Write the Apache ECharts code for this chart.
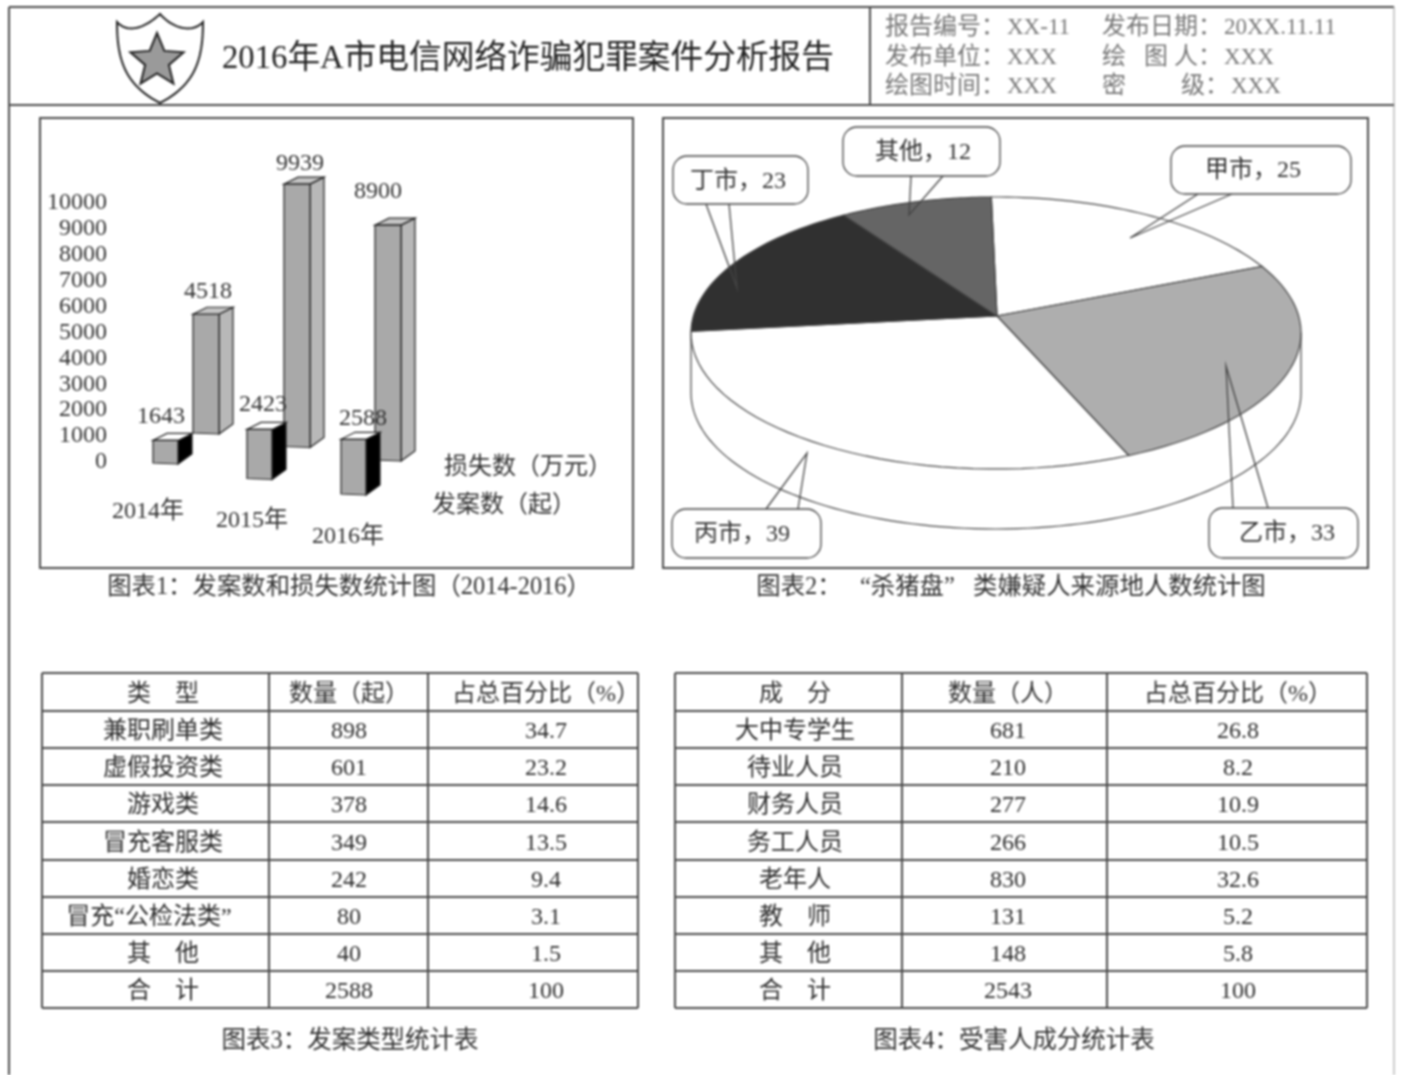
<!DOCTYPE html>
<html><head><meta charset="utf-8">
<style>html,body{margin:0;padding:0;background:#fff}#c{width:1401px;height:1075px;filter:blur(1px)}</style>
<script src="https://cdn.jsdelivr.net/npm/echarts@6/dist/echarts.min.js"></script>
</head><body><div id="c"></div>
<script>
// ---------- data ----------
const reportTitle = '2016年A市电信网络诈骗犯罪案件分析报告';
const years = ['2014年','2015年','2016年'];
const caseCounts = [1643,2423,2588];
const lossAmounts = [4518,9939,8900];
const lossName = '损失数（万元）';
const caseName = '发案数（起）';
const pieNames = ['甲市','乙市','丙市','丁市','其他'];
const pieValues = [25,33,39,23,12];
const pieColors = ['#ffffff','#aeaeae','#ffffff','#303030','#656565'];
const captions = ['图表1：发案数和损失数统计图（2014-2016）','图表2：   “杀猪盘”   类嫌疑人来源地人数统计图','图表3：发案类型统计表','图表4：受害人成分统计表'];
const t1Head = ['类　型','数量（起）','占总百分比（%）'];
const t1Types = ['兼职刷单类','虚假投资类','游戏类','冒充客服类','婚恋类','冒充“公检法类”','其　他','合　计'];
const t1Counts = ['898','601','378','349','242','80','40','2588'];
const t1Shares = ['34.7','23.2','14.6','13.5','9.4','3.1','1.5','100'];
const t2Head = ['成　分','数量（人）','占总百分比（%）'];
const t2Types = ['大中专学生','待业人员','财务人员','务工人员','老年人','教　师','其　他','合　计'];
const t2Counts = ['681','210','277','266','830','131','148','2543'];
const t2Shares = ['26.8','8.2','10.9','10.5','32.6','5.2','5.8','100'];

// ---------- style and layout ----------
const FF = '"Liberation Serif","Noto Sans CJK SC"';
const font = s => s + 'px ' + FF;
const INK = '#2e2e2e', LINE = '#4a4a4a';
const graphics = [];
const txt = (text,x,y,size,fill,align) => graphics.push({type:'text',silent:true,x,y:y+3,style:{text,font:font(size),fill:fill||INK,align:align||'center',verticalAlign:'middle',textAlign:align||'center',textVerticalAlign:'middle'}});
const ln = (x1,y1,x2,y2,w,c) => graphics.push({type:'line',silent:true,shape:{x1,y1,x2,y2},style:{stroke:c||LINE,lineWidth:w||2}});

// page frame and header
ln(9,7,1394,7); ln(9,7,9,1075); ln(1394,7,1394,1075,1,'#999'); ln(9,105,1394,105); ln(870,7,870,105);
function bez(p0,p1,p2,p3,out){for(let k=0;k<=24;k++){const t=k/24,u=1-t;out.push([u*u*u*p0[0]+3*u*u*t*p1[0]+3*u*t*t*p2[0]+t*t*t*p3[0],u*u*u*p0[1]+3*u*u*t*p1[1]+3*u*t*t*p2[1]+t*t*t*p3[1]]);}}
const shield=[];
bez([117,22],[128,34],[145,28],[160,14],shield);
bez([160,14],[172,28],[192,34],[203,22],shield);
bez([203,22],[203,60],[195,85],[160,103],shield);
bez([160,103],[125,85],[117,60],[117,22],shield);
graphics.push({type:'polygon',silent:true,shape:{points:shield},style:{fill:'#fff',stroke:'#222',lineWidth:2}});
const star=[]; for(let k=0;k<10;k++){const r=k%2?12.5:28,a=-Math.PI/2+k*Math.PI/5; star.push([157+r*Math.cos(a),61+r*Math.sin(a)]);}
graphics.push({type:'polygon',silent:true,shape:{points:star},style:{fill:'#9a9a9a',stroke:'#222',lineWidth:2}});
txt(reportTitle,222,56,32.7,'#222','left');
const META='#777';
[['报告编号：',885,25,24],['XX-11',1007,25,23],['发布日期：',1102,25,24],['20XX.11.11',1224,25,23],
 ['发布单位：',885,55,24],['XXX',1007,55,23],['绘   图 人：',1102,55,24],['XXX',1224,55,23],
 ['绘图时间：',885,84,24],['XXX',1007,84,23],['密',1102,84,24],['级：',1181,84,24],['XXX',1231,84,23]]
 .forEach(m=>txt(m[0],m[1],m[2],m[3],META,'left'));

// chart frames and captions
[[40,118,593,450],[663,118,705,450]].forEach(r=>graphics.push({type:'rect',silent:true,shape:{x:r[0],y:r[1],width:r[2],height:r[3]},style:{fill:'none',stroke:LINE,lineWidth:2}}));
txt(captions[0],349,585,24.4,'#333'); txt(captions[1],1011,585,24.4,'#333');
txt(captions[2],350,1039,24.5,'#333'); txt(captions[3],1014,1039,24.5,'#333');
txt(lossName,444,465,24,'#333','left'); txt(caseName,432,503,24,'#333','left');

// tables
const rowY=[673,711,748,785,822,860,897,934,971,1008];
function table(colX,centers,head,c1,c2,c3,firstShift){
  rowY.forEach(y=>ln(colX[0],y,colX[3],y));
  colX.forEach(x=>ln(x,rowY[0],x,rowY[9]));
  const my=i=>(rowY[i]+rowY[i+1])/2-0.5;
  head.forEach((h,j)=>txt(h,centers[j],my(0),24,'#333'));
  c1.forEach((v,i)=>{
    txt(v,centers[0]+(firstShift[i]||0),my(i+1),24,INK);
    txt(c2[i],centers[1],my(i+1),24,INK);
    txt(c3[i],centers[2],my(i+1),24,INK);
  });
}
table([42,269,428,638],[163,349,546],t1Head,t1Types,t1Counts,t1Shares,{5:-14});
table([675,902,1107,1367],[795,1008,1238],t2Head,t2Types,t2Counts,t2Shares,{});

// oblique bar layout: one config per row of the 3-D bar chart
const frontRow={w:25,dx:-7,stepX:0,dy:2,stepY:15.5,side:'#000000',top:'#ffffff',axisMin:950,labelDx:[8,16,22],labelDy:[-24,-25,-21]};
const rearRow ={w:26,dx:33,stepX:-3,dy:-28,stepY:13.5,side:'#b8b8b8',top:'#c4c4c4',axisMin:0,labelDx:[15,16,3],labelDy:[-23,-20,-33]};
const yearOffset=[[-12,50],[-2,59],[0,75]];
const DX=14,DY=7,FACE='#a9a9a9',EDGE='#222';
function barRenderer(row,withYears){
  return function(params,api){
    const i=api.value(0), v=api.value(1);
    const top=api.coord([i,v]), base=api.coord([i,row.axisMin]);
    const h=base[1]-top[1];
    const x=base[0]+row.dx+row.stepX*i, yB=base[1]+row.dy+row.stepY*i, yT=yB-h, w=row.w;
    const st=f=>({fill:f,stroke:EDGE,lineWidth:1.2});
    const children=[
      {type:'polygon',shape:{points:[[x+w,yB],[x+w,yT],[x+w+DX,yT-DY],[x+w+DX,yB-DY-3]]},style:st(row.side)},
      {type:'polygon',shape:{points:[[x,yT],[x+w,yT],[x+w+DX,yT-DY],[x+DX,yT-DY]]},style:st(row.top)},
      {type:'polygon',shape:{points:[[x,yT],[x+w,yT],[x+w,yB],[x,yB-1]]},style:st(FACE)},
      {type:'text',z2:50,x:x+row.labelDx[i],y:yT+row.labelDy[i],style:{text:String(v),font:font(24),fill:'#333',align:'center',verticalAlign:'middle'}}
    ];
    if(withYears){
      children.push({type:'text',z2:50,x:base[0]+yearOffset[i][0],y:base[1]+yearOffset[i][1],style:{text:years[i],font:font(24),fill:'#333',align:'center',verticalAlign:'middle'}});
    }
    return {type:'group',children};
  };
}

// pie projection: a tilted circle seen in perspective, so its centre sits above the ellipse's middle
const SQUASH=136/305, PIE_DEPTH=60, PERSPECTIVE=0.125, PIE_START=-1;
const pieTotal=pieValues.reduce((a,b)=>a+b,0);
let running=0;
const pieEnds=pieValues.map(v=>(running+=v));
function flat(api,a){
  const c=api.coord([0,0]), p=api.coord([1,a]);
  return [p[0], c[1]+(p[1]-c[1])*SQUASH];
}
function project(api,a){
  const c=api.coord([0,0]), p=api.coord([1,a]);
  const R=Math.hypot(p[0]-c[0],p[1]-c[1]);
  const x=(p[0]-c[0])/R, y=(c[1]-p[1])/R, e=PERSPECTIVE;
  const d=1+e*y;
  return [c[0]+R*x*Math.sqrt(1-e*e)/d, c[1]-R*SQUASH*(y+e)/d];
}
function pieSide(params,api){
  const pts=[];
  for(let k=0;k<=90;k++){const a=pieTotal/4+k/90*pieTotal/2,p=flat(api,a);pts.push([p[0],p[1]+PIE_DEPTH]);}
  pts.unshift(flat(api,pieTotal/4)); pts.push(flat(api,pieTotal*3/4));
  return {type:'polygon',shape:{points:pts},style:{fill:'#fff',stroke:'#444',lineWidth:1.2}};
}
function pieSlice(params,api){
  const end=api.value(1), i=params.dataIndex, start=end-pieValues[i];
  const c=api.coord([0,0]), pts=[[c[0]+1,c[1]-136*PERSPECTIVE]];
  const n=40, off=PIE_START*pieTotal/360;
  for(let k=0;k<=n;k++){pts.push(project(api,start+off+(end-start)*k/n));}
  return {type:'polygon',shape:{points:pts},style:{fill:pieColors[i],stroke:'#444',lineWidth:1.2}};
}
// callouts: box x,y,w,h; tail base x1,x2, base y; tail tip
const callouts=[
 {box:[1171,146,180,48],tx:1253,ty:171,b:[1198,1232,194],tip:[1130,238]},
 {box:[1209,508,149,50],tx:1287,ty:534,b:[1233,1268,508],tip:[1226,366]},
 {box:[672,509,149,49],tx:742,ty:535,b:[766,798,509],tip:[807,453]},
 {box:[673,156,135,48],tx:738,ty:182,b:[706,729,204],tip:[737,288]},
 {box:[843,127,157,49],tx:923,ty:153,b:[911,943,176],tip:[909,215]}
];
function callout(params,api){
  const i=params.dataIndex, c=callouts[i], s={stroke:'#444',lineWidth:1.3,fill:'none'};
  return {type:'group',children:[
    {type:'polyline',shape:{points:[[c.b[0],c.b[2]],c.tip,[c.b[1],c.b[2]]]},style:s},
    {type:'rect',shape:{x:c.box[0],y:c.box[1],width:c.box[2],height:c.box[3],r:14},style:{fill:'#fff',stroke:'#444',lineWidth:1.3}},
    {type:'text',x:c.tx,y:c.ty,style:{text:pieNames[i]+'，'+pieValues[i],font:font(24),fill:'#333',align:'center',verticalAlign:'middle'}}
  ]};
}

const chart=echarts.init(document.getElementById('c'));
chart.setOption({
  animation:false,
  backgroundColor:'#fff',
  graphic:{elements:graphics},
  grid:{left:113,top:203,width:282,height:259},
  xAxis:{type:'category',data:years,show:false},
  yAxis:[
    {type:'value',min:0,max:10000,interval:1000,axisLine:{show:false},axisTick:{show:false},splitLine:{show:false},axisLabel:{margin:6,fontFamily:FF,fontSize:24,color:'#333',formatter:v=>String(v)}},
    {type:'value',min:0,max:9773,show:false},
    {type:'value',min:950,max:8568,show:false}
  ],
  polar:{center:[996,333],radius:305},
  angleAxis:{type:'value',min:0,max:pieTotal,startAngle:90,show:false},
  radiusAxis:{type:'value',min:0,max:1,show:false},
  series:[
    {type:'custom',name:lossName,coordinateSystem:'cartesian2d',yAxisIndex:1,clip:false,data:lossAmounts.map((v,i)=>[i,v]),encode:{x:0,y:1},renderItem:barRenderer(rearRow,false),z:3},
    {type:'custom',name:caseName,coordinateSystem:'cartesian2d',yAxisIndex:2,clip:false,data:caseCounts.map((v,i)=>[i,v]),encode:{x:0,y:1},renderItem:barRenderer(frontRow,true),z:4},
    {type:'custom',name:'side',coordinateSystem:'polar',data:[[1,0]],renderItem:pieSide,z:3},
    {type:'custom',name:'pie',coordinateSystem:'polar',data:pieEnds.map(e=>[1,e]),renderItem:pieSlice,z:4},
    {type:'custom',name:'callouts',coordinateSystem:'none',data:pieValues,renderItem:callout,z:5}
  ]
});
</script></body></html>
